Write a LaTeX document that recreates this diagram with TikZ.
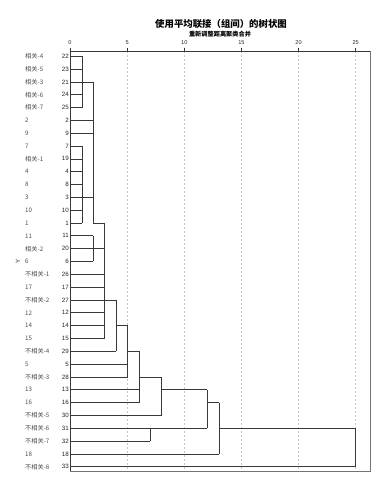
\documentclass[tikz,border=0pt]{standalone}
\usepackage{fontspec}
\setmainfont{Liberation Sans}
\newfontfamily\cjk{Noto Sans CJK SC}
\begin{document}
\begin{tikzpicture}[x=1pt,y=-1pt]
\tikzset{
  dl/.style={draw=black!78, line width=0.65pt},
  framel/.style={draw=black!55, line width=0.7pt},
  gridln/.style={draw=black!22, dash pattern=on 2pt off 2pt, line width=0.5pt},
  lab/.style={font=\fontsize{6.2}{7}\selectfont, text=black!85, inner sep=0pt},
  nm/.style={font=\cjk\fontsize{6.2}{7}\selectfont, text=black!70, inner sep=0pt, anchor=west},
  tick/.style={font=\fontsize{5.6}{6}\selectfont, text=black!85, inner sep=0pt},
}
\useasboundingbox (0,0) rectangle (391,482);
% title
\node (title) at (221,23.5) {\cjk\bfseries\fontsize{9.4}{11}\selectfont 使用平均联接（组间）的树状图};
\node (subtitle) at (220,34.5) {\cjk\bfseries\fontsize{6.2}{7}\selectfont 重新调整距离聚类合并};
% grid and ticks
\foreach \d in {5,10,15,20,25}
  \draw[gridln] ({70+\d*11.428},51) -- ({70+\d*11.428},471);
\foreach \d in {0,5,10,15,20,25} {
  \draw[draw=black!80, line width=0.6pt] ({70+\d*11.428},47.5) -- ({70+\d*11.428},51);
  \node[tick] (t\d) at ({70+\d*11.428},43) {\d};
}
% frame
\draw[framel] (370,51) -- (370,471) -- (70,471);
\draw[dl] (70,471) -- (70,51) -- (370,51);
% rows
\foreach \i in {0,...,32}
  \coordinate (r\i) at (70,{56.2+12.83*\i});
\foreach \i/\n/\t in {0/22/相关-4,1/23/相关-5,2/21/相关-3,3/24/相关-6,4/25/相关-7,
  5/2/2,6/9/9,7/7/7,8/19/相关-1,9/4/4,10/8/8,11/3/3,12/10/10,13/1/1,14/11/11,
  15/20/相关-2,16/6/6,17/26/不相关-1,18/17/17,19/27/不相关-2,20/12/12,21/14/14,
  22/15/15,23/29/不相关-4,24/5/5,25/28/不相关-3,26/13/13,27/16/16,28/30/不相关-5,
  29/31/不相关-6,30/32/不相关-7,31/18/18,32/33/不相关-8} {
  \node[lab, anchor=east] (num\i) at (69,{56.2+12.83*\i}) {\n};
  \node[nm] (nm\i) at (25,{56.2+12.83*\i}) {\t};
}
\node[rotate=90, font=\fontsize{6.2}{7}\selectfont, text=black!85, inner sep=0pt] (ytitle) at (18,261) {Y};
% cluster columns
\coordinate (cA) at (82,0);
\coordinate (cB) at (93.3,0);
\coordinate (cC) at (104.7,0);
\coordinate (cD) at (116,0);
\coordinate (cE) at (127.5,0);
\coordinate (cF) at (139.3,0);
\coordinate (cG) at (150.3,0);
\coordinate (cH) at (161.7,0);
\coordinate (cI) at (207.3,0);
\coordinate (cJ) at (219,0);
\coordinate (cK) at (355.7,0);
% A : rows 0-4
\foreach \i in {0,...,4} \draw[dl] (r\i) -- (r\i -| cA);
\draw[dl] (r0 -| cA) -- (r4 -| cA);
% B : rows 7-13
\foreach \i in {7,...,13} \draw[dl] (r\i) -- (r\i -| cA);
\draw[dl] (r7 -| cA) -- (r13 -| cA);
% level cB
\draw[dl] (r2 -| cA) -- (r2 -| cB);
\draw[dl] (r5) -- (r5 -| cB);
\draw[dl] (r6) -- (r6 -| cB);
\draw[dl] (r11 -| cA) -- (r11 -| cB);
\draw[dl] (r2 -| cB) -- (r13 -| cB);
% C : rows 14-16
\foreach \i in {14,15,16} \draw[dl] (r\i) -- (r\i -| cB);
\draw[dl] (r14 -| cB) -- (r16 -| cB);
% level cC
\draw[dl] (r13 -| cB) -- (r13 -| cC);
\draw[dl] (r15 -| cB) -- (r15 -| cC);
\foreach \i in {17,...,22} \draw[dl] (r\i) -- (r\i -| cC);
\draw[dl] (r13 -| cC) -- (r22 -| cC);
% level cD
\draw[dl] (r19 -| cC) -- (r19 -| cD);
\draw[dl] (r23) -- (r23 -| cD);
\draw[dl] (r19 -| cD) -- (r23 -| cD);
% level cE
\draw[dl] (r21 -| cD) -- (r21 -| cE);
\draw[dl] (r24) -- (r24 -| cE);
\draw[dl] (r25) -- (r25 -| cE);
\draw[dl] (r21 -| cE) -- (r25 -| cE);
% level cF
\draw[dl] (r23 -| cE) -- (r23 -| cF);
\draw[dl] (r26) -- (r26 -| cF);
\draw[dl] (r27) -- (r27 -| cF);
\draw[dl] (r23 -| cF) -- (r27 -| cF);
% level cH
\draw[dl] (r25 -| cF) -- (r25 -| cH);
\draw[dl] (r28) -- (r28 -| cH);
\draw[dl] (r25 -| cH) -- (r28 -| cH);
% cG : rows 29-30
\draw[dl] (r29) -- (r29 -| cG);
\draw[dl] (r30) -- (r30 -| cG);
\draw[dl] (r29 -| cG) -- (r30 -| cG);
% level cI
\draw[dl] (r26 -| cH) -- (r26 -| cI);
\draw[dl] (r29 -| cG) -- (r29 -| cI);
\draw[dl] (r26 -| cI) -- (r29 -| cI);
% level cJ
\draw[dl] (r27 -| cI) -- (r27 -| cJ);
\draw[dl] (r31) -- (r31 -| cJ);
\draw[dl] (r27 -| cJ) -- (r31 -| cJ);
% level cK
\draw[dl] (r29 -| cJ) -- (r29 -| cK);
\draw[dl] (r32) -- (r32 -| cK);
\draw[dl] (r29 -| cK) -- (r32 -| cK);
\end{tikzpicture}
\end{document}
